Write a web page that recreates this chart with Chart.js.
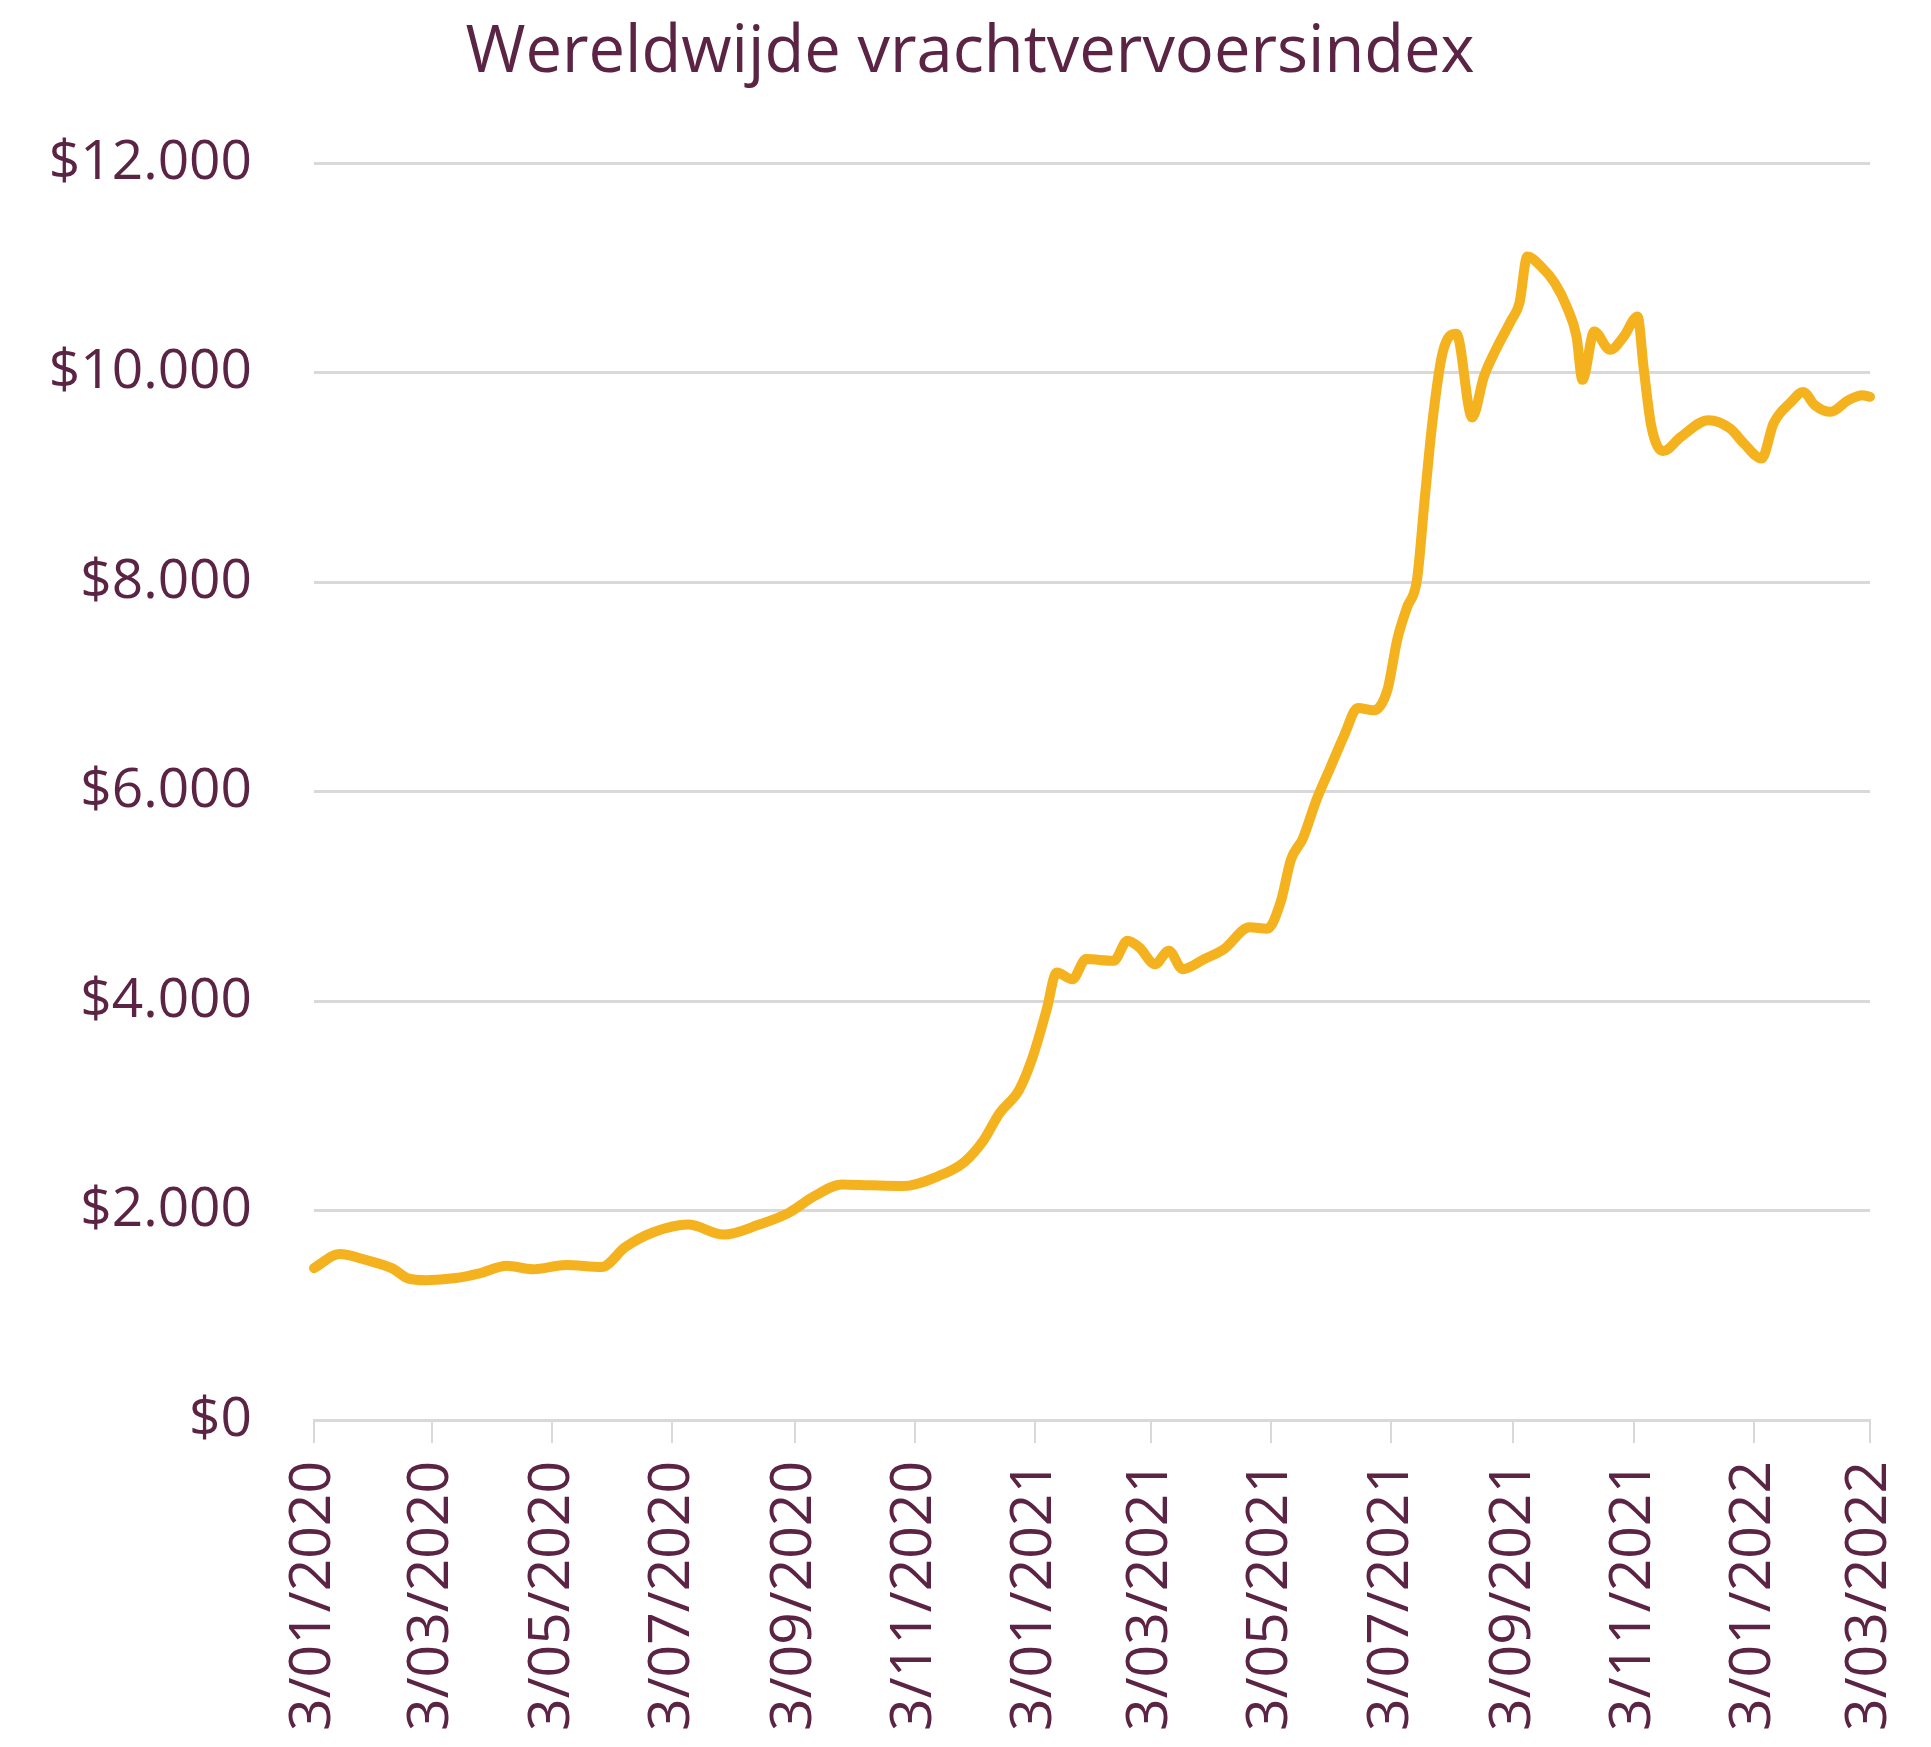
<!DOCTYPE html>
<html>
<head>
<meta charset="utf-8">
<script src="https://cdn.jsdelivr.net/npm/chart.js@4.4.1/dist/chart.umd.min.js"></script>
<style>
  html, body { margin: 0; padding: 0; background: #ffffff; }
  #wrap { width: 1931px; height: 1747px; position: relative; }
</style>
</head>
<body>
<div id="wrap"><canvas id="freightChart"></canvas></div>
<script>
// chart data
const chartTitle = 'Wereldwijde vrachtvervoersindex';
const startDate = '2020-01-03';
const tickDates = ['2020-01-03','2020-03-03','2020-05-03','2020-07-03','2020-09-03','2020-11-03',
                   '2021-01-03','2021-03-03','2021-05-03','2021-07-03','2021-09-03','2021-11-03',
                   '2022-01-03','2022-03-03'];
// days since 3/01/2020
const dayOffsets = [0,13,26,40,48,57,72,84,98,111,128,146,158,172,190,208,226,241,254,268,283,299,317,
                    330,340,348,358,365,372,377,385,392,406,413,419,427,434,441,452,462,475,484,491,496,
                    502,509,516,523,530,538,545,550,555,560,564,568,573,580,588,594,600,608,612,616,623,
                    630,636,641,644,650,658,665,672,675,679,685,694,708,719,726,735,741,750,756,762,770,
                    779,786,790];
const indexValues = [1450,1585,1530,1445,1350,1335,1355,1400,1472,1440,1480,1460,1650,1790,1866,1770,1866,1978,2137,2249,2240,2233,2329,
                     2460,2672,2928,3152,3472,3920,4272,4208,4400,4384,4576,4512,4352,4480,4304,4400,4496,4704,4690,4960,5350,
                     5550,5922,6228,6534,6797,6775,6972,7453,7760,8022,8810,9554,10188,10370,9570,9962,10216,10503,10662,11107,11012,
                     10853,10630,10344,9930,10391,10216,10344,10535,10057,9484,9250,9386,9545,9465,9322,9179,9513,9720,9815,9688,9625,
                     9736,9784,9768];
const yTicks = [0,2000,4000,6000,8000,10000,12000];

const textColor = '#5c2444';
const fontFamily = '"Open Sans", "DejaVu Sans", sans-serif';

const dayMs = 24 * 3600 * 1000;
const toDay = s => Math.round((Date.parse(s) - Date.parse(startDate)) / dayMs);
const tickDays = tickDates.map(toDay);
const fmtDate = s => { const p = s.split('-'); return parseInt(p[2], 10) + '/' + p[1] + '/' + p[0]; };
const fmtMoney = v => '$' + String(v).replace(/\B(?=(\d{3})+(?!\d))/g, '.');

// title drawn by hand so the plot area can be placed freely
const titlePlugin = {
    id: 'titleText',
    afterDraw: (chart) => {
        const ctx = chart.ctx;
        ctx.save();
        ctx.fillStyle = textColor;
        ctx.font = '65px ' + fontFamily;
        ctx.textAlign = 'center';
        ctx.textBaseline = 'alphabetic';
        ctx.fillText(chartTitle, 970, 72);
        ctx.restore();
    }
};

Chart.defaults.font.family = fontFamily;

new Chart(document.getElementById('freightChart'), {
    type: 'line',
    data: {
        datasets: [{
            label: chartTitle,
            data: dayOffsets.map((d, i) => ({ x: d, y: indexValues[i] })),
            borderColor: '#f5b21f',
            backgroundColor: '#f5b21f',
            borderWidth: 10,
            pointRadius: 0,
            cubicInterpolationMode: 'monotone',
            borderJoinStyle: 'round',
            borderCapStyle: 'round',
            clip: false
        }]
    },
    plugins: [titlePlugin],
    options: {
        responsive: true,
        maintainAspectRatio: false,
        devicePixelRatio: 1,
        animation: false,
        layout: { padding: { left: 47, right: 61, top: 163, bottom: 0 } },
        plugins: { legend: { display: false }, tooltip: { enabled: false }, title: { display: false } },
        scales: {
            x: {
                type: 'linear',
                min: 0,
                max: tickDays[tickDays.length - 1],
                afterBuildTicks: s => { s.ticks = tickDays.map(v => ({ value: v })); },
                afterFit: s => { s.height = 327; s.paddingLeft = 0; s.paddingRight = 0; },
                grid: { drawOnChartArea: false, drawTicks: true, tickLength: 23, color: '#d9d9d9', lineWidth: 2 },
                border: { display: true, color: '#d9d9d9', width: 3 },
                ticks: {
                    autoSkip: false,
                    minRotation: 90,
                    maxRotation: 90,
                    padding: 18,
                    color: textColor,
                    font: { size: 57 },
                    callback: v => { const i = tickDays.indexOf(v); return i >= 0 ? fmtDate(tickDates[i]) : ''; }
                }
            },
            y: {
                min: 0,
                max: 12000,
                afterBuildTicks: s => { s.ticks = yTicks.map(v => ({ value: v })); },
                afterFit: s => { s.width = 267; },
                grid: { color: '#d9d9d9', lineWidth: 3, drawTicks: false },
                border: { display: false },
                ticks: {
                    padding: 62,
                    color: textColor,
                    font: { size: 55 },
                    callback: v => fmtMoney(v)
                }
            }
        }
    }
});
</script>
</body>
</html>
